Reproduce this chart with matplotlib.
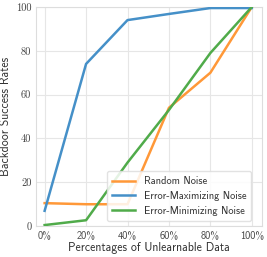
import matplotlib
matplotlib.use("Agg")
import matplotlib.pyplot as plt
import numpy as np

plt.rcParams["font.family"] = ["cmss10", "DejaVu Sans"]
plt.rcParams["axes.unicode_minus"] = False

percent_labels = ["0%", "20%", "40%", "60%", "80%", "100%"]
random_noise = [10.5, 10.0, 10.0, 54.0, 70.0, 100.0]
error_max_noise = [7.0, 74.0, 94.0, 96.8, 99.5, 99.5]
error_min_noise = [0.5, 2.7, 29.0, 53.0, 79.0, 100.0]
y_ticks = [0, 20, 40, 60, 80, 100]

x = np.arange(len(percent_labels))

fig, ax = plt.subplots(figsize=(2.67, 2.57), dpi=100)
fig.subplots_adjust(left=0.133, right=0.982, top=0.973, bottom=0.12)

ax.plot(x, random_noise, color="#ff9838", linewidth=1.8, label="Random Noise", zorder=3)
ax.plot(x, error_max_noise, color="#4590c8", linewidth=1.8, label="Error-Maximizing Noise", zorder=3)
ax.plot(x, error_min_noise, color="#50ab4a", linewidth=1.8, label="Error-Minimizing Noise", zorder=3)

ax.set_xlim(-0.22, 5.25)
ax.set_ylim(0, 100)
ax.set_xticks(x)
ax.set_xticklabels(percent_labels, fontsize=7.5)
ax.set_yticks(y_ticks)
ax.set_yticklabels([str(v) for v in y_ticks], fontsize=7.5, fontfamily="cmr10", color="#555555")
ax.tick_params(length=0, pad=3, colors="#444444")
ax.grid(True, color="#e6e6e6", linewidth=0.8)
for spine in ax.spines.values():
    spine.set_color("#dddddd")
    spine.set_linewidth(0.8)

ax.set_xlabel("Percentages of Unlearnable Data", fontsize=8.5, labelpad=1, color="#333333")
ax.set_ylabel("Backdoor Success Rates", fontsize=8.5, labelpad=3, color="#333333")

leg = ax.legend(loc="lower right", bbox_to_anchor=(0.975, 0.0), fontsize=7.5, frameon=True,
                handlelength=2.2, borderaxespad=0.5, labelspacing=0.45, borderpad=0.5)
leg.get_frame().set_edgecolor("#dddddd")
leg.get_frame().set_alpha(0.85)
for t in leg.get_texts():
    t.set_color("#333333")

fig.savefig("out.png", dpi=100)
